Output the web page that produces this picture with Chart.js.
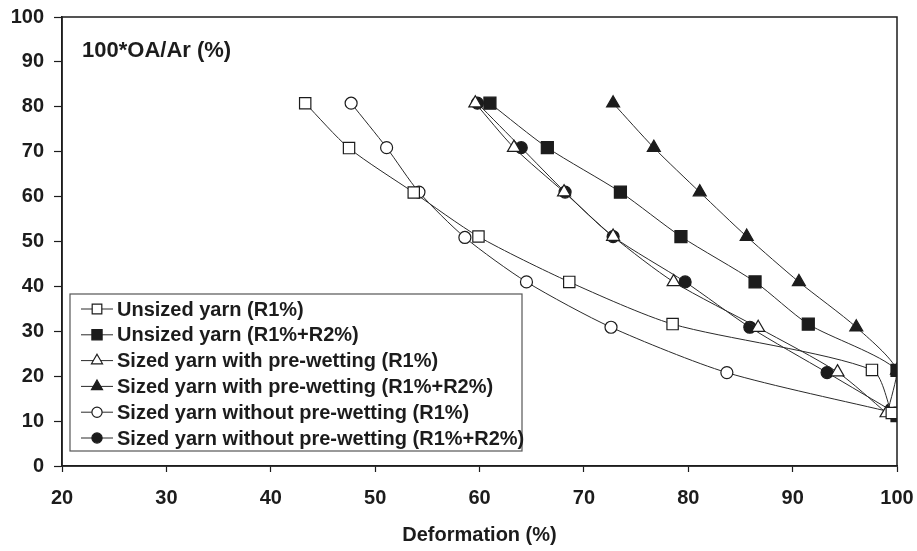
<!DOCTYPE html>
<html>
<head>
<meta charset="utf-8">
<script src="https://cdn.jsdelivr.net/npm/chart.js@4.4.0/dist/chart.umd.min.js"></script>
<style>
    html, body { margin: 0; padding: 0; background: #fff; }
    .wrap { width: 917px; height: 551px; position: relative; }
</style>
</head>
<body>
<div class="wrap"><canvas id="chart"></canvas></div>
<script>
// axis ticks
const xTicks = [20, 30, 40, 50, 60, 70, 80, 90, 100];
const yTicks = [0, 10, 20, 30, 40, 50, 60, 70, 80, 90, 100];

const seriesNames = [
    'Unsized yarn (R1%)',
    'Unsized yarn (R1%+R2%)',
    'Sized yarn with pre-wetting (R1%)',
    'Sized yarn with pre-wetting (R1%+R2%)',
    'Sized yarn without pre-wetting (R1%)',
    'Sized yarn without pre-wetting (R1%+R2%)'
];

// deformation (%) / 100*OA/Ar (%)
const unsizedR1X = [43.3, 47.5, 53.7, 59.9, 68.6, 78.5, 97.6, 99.5];
const unsizedR1Y = [80.8, 70.8, 60.9, 51.1, 41.0, 31.6, 21.4, 11.8];
const unsizedR12X = [61.0, 66.5, 73.5, 79.3, 86.4, 91.5, 100, 100];
const unsizedR12Y = [80.8, 70.9, 61.0, 51.1, 41.0, 31.6, 21.3, 11.2];
const wetR1X = [59.6, 63.3, 68.1, 72.8, 78.6, 86.7, 94.3, 99.0];
const wetR1Y = [80.8, 70.9, 61.0, 51.1, 41.0, 30.8, 20.9, 11.8];
const wetR12X = [72.8, 76.7, 81.1, 85.6, 90.6, 96.1, 100, 99.1];
const wetR12Y = [80.8, 70.9, 61.0, 51.1, 41.0, 30.9, 21.3, 12.0];
const dryR1X = [47.7, 51.1, 54.2, 58.6, 64.5, 72.6, 83.7, 99.8];
const dryR1Y = [80.8, 70.9, 61.0, 50.9, 41.0, 30.9, 20.8, 11.8];
const dryR12X = [59.8, 64.0, 68.2, 72.8, 79.7, 85.9, 93.3, 100];
const dryR12Y = [80.8, 70.9, 61.0, 51.1, 41.0, 30.9, 20.8, 11.6];

const ink = '#1c1c1c';
const fontFamily = "'Liberation Sans', Arial, sans-serif";

function toPoints(xs, ys) {
    return xs.map((x, i) => ({ x: x, y: ys[i] }));
}

function makeSeries(name, xs, ys, style, filled, radius) {
    return {
        label: name,
        data: toPoints(xs, ys),
        showLine: true,
        borderColor: '#2a2a2a',
        borderWidth: 1,
        tension: 0.25,
        pointStyle: style,
        pointRadius: radius,
        pointHoverRadius: radius,
        pointBorderColor: ink,
        pointBorderWidth: 1.2,
        pointBackgroundColor: filled ? ink : '#ffffff'
    };
}

const datasets = [
    makeSeries(seriesNames[0], unsizedR1X, unsizedR1Y, 'rect', false, 8),
    makeSeries(seriesNames[1], unsizedR12X, unsizedR12Y, 'rect', true, 8.5),
    makeSeries(seriesNames[2], wetR1X, wetR1Y, 'triangle', false, 7.5),
    makeSeries(seriesNames[3], wetR12X, wetR12Y, 'triangle', true, 7.5),
    makeSeries(seriesNames[4], dryR1X, dryR1Y, 'circle', false, 6),
    makeSeries(seriesNames[5], dryR12X, dryR12Y, 'circle', true, 6)
];

// frame, inner title and boxed legend
const framePlugin = {
    id: 'frame',
    afterDatasetsDraw(chart) {
        const { ctx, chartArea } = chart;
        ctx.save();
        ctx.strokeStyle = ink;
        ctx.lineWidth = 1.5;
        ctx.strokeRect(chartArea.left, chartArea.top, chartArea.right - chartArea.left, chartArea.bottom - chartArea.top);

        ctx.fillStyle = ink;
        ctx.font = 'bold 22px ' + fontFamily;
        ctx.textBaseline = 'middle';
        ctx.textAlign = 'left';
        ctx.fillText('100*OA/Ar (%)', chartArea.left + 20, chartArea.top + 34);

        const left = chartArea.left + 8;
        const top = chartArea.top + 277;
        ctx.fillStyle = '#fff';
        ctx.fillRect(left, top, 452, 157);
        ctx.strokeStyle = '#555';
        ctx.lineWidth = 1.2;
        ctx.strokeRect(left, top, 452, 157);

        ctx.font = 'bold 20px ' + fontFamily;
        chart.data.datasets.forEach((ds, i) => {
            const y = top + 15 + i * 25.8;
            ctx.strokeStyle = '#2a2a2a';
            ctx.lineWidth = 1;
            ctx.beginPath();
            ctx.moveTo(left + 11, y);
            ctx.lineTo(left + 43, y);
            ctx.stroke();
            ctx.fillStyle = ds.pointBackgroundColor;
            ctx.strokeStyle = ink;
            ctx.lineWidth = 1.2;
            Chart.helpers.drawPoint(ctx, {
                pointStyle: ds.pointStyle,
                radius: ds.pointRadius * 0.85,
                borderWidth: 1.2,
                rotation: 0
            }, left + 27, y);
            ctx.fillStyle = ink;
            ctx.fillText(ds.label, left + 47, y + 1);
        });
        ctx.restore();
    }
};

new Chart(document.getElementById('chart'), {
    type: 'scatter',
    data: { datasets: datasets },
    options: {
        responsive: true,
        maintainAspectRatio: false,
        animation: false,
        layout: { padding: { left: 0, right: 20, top: 17, bottom: 0 } },
        plugins: {
            legend: { display: false },
            tooltip: { enabled: false }
        },
        scales: {
            x: {
                type: 'linear',
                min: xTicks[0],
                max: xTicks[xTicks.length - 1],
                afterBuildTicks: (scale) => { scale.ticks = xTicks.map((v) => ({ value: v })); },
                afterFit: (scale) => {
                    scale.height = 85;
                    scale.paddingLeft = 0;
                    scale.paddingRight = 0;
                },
                border: { color: ink, width: 1.5 },
                grid: { drawOnChartArea: false, tickLength: 6, color: ink, tickWidth: 1.2 },
                ticks: {
                    color: ink,
                    padding: 14,
                    font: { family: fontFamily, size: 20, weight: 'bold' }
                },
                title: {
                    display: true,
                    text: 'Deformation (%)',
                    color: ink,
                    padding: { top: 0, bottom: 4 },
                    font: { family: fontFamily, size: 20, weight: 'bold' }
                }
            },
            y: {
                type: 'linear',
                min: yTicks[0],
                max: yTicks[yTicks.length - 1],
                afterBuildTicks: (scale) => { scale.ticks = yTicks.map((v) => ({ value: v })); },
                afterFit: (scale) => {
                    scale.width = 62;
                    scale.paddingTop = 0;
                    scale.paddingBottom = 0;
                },
                border: { color: ink, width: 1.5 },
                grid: { drawOnChartArea: false, tickLength: 8, color: ink, tickWidth: 1.2 },
                ticks: {
                    color: ink,
                    padding: 10,
                    font: { family: fontFamily, size: 20, weight: 'bold' }
                }
            }
        }
    },
    plugins: [framePlugin]
});
</script>
</body>
</html>
